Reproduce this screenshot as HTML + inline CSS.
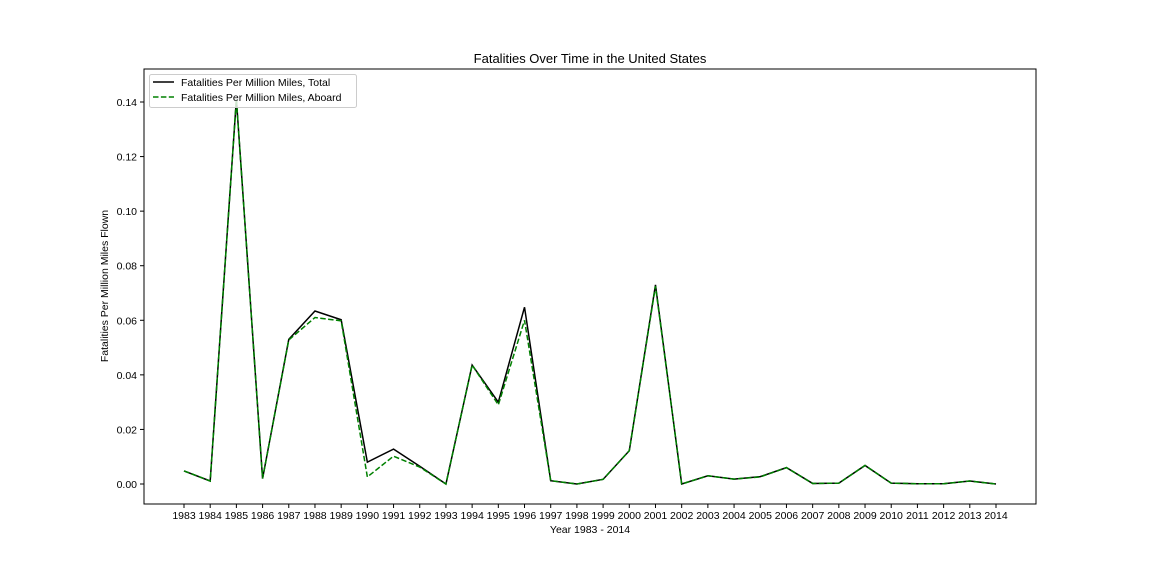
<!DOCTYPE html>
<html><head><meta charset="utf-8"><style>body{margin:0;background:#fff}svg{display:block;font-family:"Liberation Sans","DejaVu Sans",sans-serif}</style></head>
<body>
<svg id="chart" width="1152" height="576"></svg>
<script>
const years=[1983,1984,1985,1986,1987,1988,1989,1990,1991,1992,1993,1994,1995,1996,1997,1998,1999,2000,2001,2002,2003,2004,2005,2006,2007,2008,2009,2010,2011,2012,2013,2014];
const totalVals=[0.0048,0.0011,0.141,0.002,0.053,0.0634,0.0602,0.008,0.0128,0.0065,0,0.0436,0.030,0.0648,0.0012,0,0.0017,0.0122,0.073,0,0.003,0.0018,0.0027,0.006,0.0002,0.0003,0.0068,0.0003,0.0001,0.0001,0.0011,0];
const aboardVals=[0.0048,0.0011,0.141,0.002,0.0528,0.061,0.0598,0.0026,0.0102,0.0062,0,0.0436,0.029,0.060,0.0012,0,0.0017,0.0122,0.0725,0,0.003,0.0018,0.0026,0.006,0.0002,0.0003,0.0068,0.0003,0.0001,0.0001,0.0011,0];
const yTicks=[0,0.02,0.04,0.06,0.08,0.10,0.12,0.14];
const NS="http://www.w3.org/2000/svg",svg=document.getElementById('chart');
const L=144,R=1036,T=69,B=504;
const x=i=>184+i*(996-184)/(years.length-1);
const y=v=>484-v*(484-102)/0.14;
function mk(t,a,p){const e=document.createElementNS(NS,t);for(const k in a)e.setAttribute(k,a[k]);(p||svg).appendChild(e);return e;}
let e=mk('text',{x:590,y:63,'text-anchor':'middle','font-size':13});e.textContent='Fatalities Over Time in the United States';


yTicks.forEach(v=>{const g=mk('g',{});


mk('line',{x1:L-4,x2:L,y1:y(v),y2:y(v),stroke:'#000'},g);
const t=mk('text',{x:L-7,y:y(v)+4,'text-anchor':'end','font-size':10.5},g);t.textContent=v.toFixed(2);});
years.forEach((yr,i)=>{const g=mk('g',{});


mk('line',{x1:x(i),x2:x(i),y1:B,y2:B+4,stroke:'#000'},g);
const t=mk('text',{x:x(i),y:B+15,'text-anchor':'middle','font-size':10.5},g);t.textContent=yr;});
e=mk('text',{x:590,y:533,'text-anchor':'middle','font-size':10.5});e.textContent='Year 1983 - 2014';


e=mk('text',{x:0,y:0,'text-anchor':'middle','font-size':10.5,transform:'translate(108,286) rotate(-90)'});e.textContent='Fatalities Per Million Miles Flown';


e=mk('polyline',{points:totalVals.map((v,i)=>x(i)+','+y(v)).join(' '),fill:'none',stroke:'#000','stroke-width':1.5});


e=mk('polyline',{points:aboardVals.map((v,i)=>x(i)+','+y(v)).join(' '),fill:'none',stroke:'#008000','stroke-width':1.5,'stroke-dasharray':'5.5,2.4'});


e=mk('rect',{x:L,y:T,width:R-L,height:B-T,fill:'none',stroke:'#000','stroke-width':1});


const lg=mk('g',{});


mk('rect',{x:149.5,y:74.5,width:207,height:33,rx:2,fill:'rgba(255,255,255,0.8)',stroke:'#ccc'},lg);
mk('line',{x1:153,x2:174,y1:82,y2:82,stroke:'#000','stroke-width':1.5},lg);
mk('line',{x1:153,x2:174,y1:97,y2:97,stroke:'#008000','stroke-width':1.5,'stroke-dasharray':'5.5,2.4'},lg);
e=mk('text',{x:181,y:86,'font-size':10.5},lg);e.textContent='Fatalities Per Million Miles, Total';


e=mk('text',{x:181,y:101,'font-size':10.5},lg);e.textContent='Fatalities Per Million Miles, Aboard';


</script>
</body></html>
